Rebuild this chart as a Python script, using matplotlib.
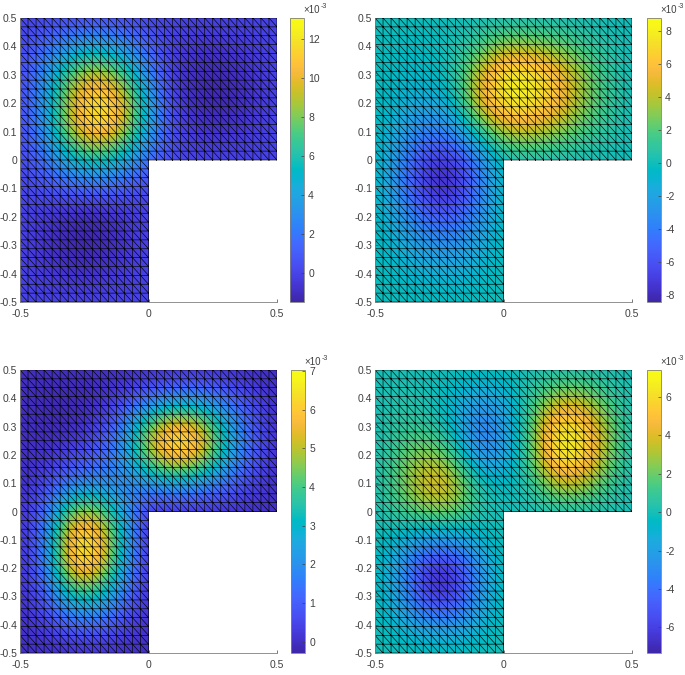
import numpy as np
import matplotlib
matplotlib.use('Agg')
import matplotlib.pyplot as plt
import matplotlib.tri as mtri
from matplotlib.colors import LinearSegmentedColormap
from matplotlib.patches import Polygon

plt.rcParams['font.family'] = ['Liberation Sans Narrow', 'Liberation Sans', 'DejaVu Sans']

# Node values (x 1e-3), rows y = 0.5 .. -0.5, columns x = -0.5 .. 0.5
modo1 = [
    [0, 0, 0, 0, 0, 0, 0, 0, 0, 0, 0],
    [0, 1.5, 3.2, 4.2, 3, 1, -0.3, -0.7, -0.6, -0.3, 0],
    [0, 3, 8, 10, 7.5, 2.5, -0.6, -1.2, -1.3, -0.7, 0],
    [0, 3.6, 10, 13, 10.8, 4.2, -0.4, -1.2, -1.45, -0.7, 0],
    [0, 3.2, 9.5, 12, 9.8, 3.8, 0, -0.7, -0.8, -0.4, 0],
    [0, 1.8, 5, 6.3, 4.5, 1.5, 0, 0, 0, 0, 0],
    [0, 0.4, 1, 1.2, 0.8, 0, 0, 0, 0, 0, 0],
    [0, -0.5, -1.1, -1.3, -0.7, 0, 0, 0, 0, 0, 0],
    [0, -0.8, -1.45, -1.45, -0.8, 0, 0, 0, 0, 0, 0],
    [0, -0.5, -0.8, -0.8, -0.4, 0, 0, 0, 0, 0, 0],
    [0, 0, 0, 0, 0, 0, 0, 0, 0, 0, 0],
]
modo2 = [
    [0, 0, 0, 0, 0, 0, 0, 0, 0, 0, 0],
    [0, -0.3, -0.3, 0, 1.3, 3.2, 3.2, 2.5, 1.5, 0.5, 0],
    [0, -0.5, -0.5, 0.2, 4.3, 8.3, 8.3, 6.5, 3.5, 1.2, 0],
    [0, -1, -1.6, -1, 5, 8.2, 8.2, 6.5, 3.5, 1.5, 0],
    [0, -1.8, -4, -3.3, 0.8, 4, 4.5, 3.4, 2, 0.8, 0],
    [0, -3.5, -6.8, -7.5, -4, 0, 0, 0, 0, 0, 0],
    [0, -3.8, -7.5, -8.2, -4.5, 0, 0, 0, 0, 0, 0],
    [0, -2.5, -5.2, -5.5, -3.5, 0, 0, 0, 0, 0, 0],
    [0, -1.2, -2.5, -3, -1.7, 0, 0, 0, 0, 0, 0],
    [0, -0.6, -1.1, -1.3, -0.8, 0, 0, 0, 0, 0, 0],
    [0, 0, 0, 0, 0, 0, 0, 0, 0, 0, 0],
]
modo3 = [
    [0, 0, 0, 0, 0, 0, 0, 0, 0, 0, 0],
    [0, -0.2, -0.25, -0.1, 0.3, 1, 1.7, 1.8, 1.2, 0.5, 0],
    [0, -0.1, -0.1, 0.3, 1.5, 4.8, 6.6, 5.8, 3, 1, 0],
    [0, 0, 0.4, 0.9, 2, 5, 6.8, 6, 3, 1, 0],
    [0, 0.5, 1.5, 1.8, 1.7, 2, 2.5, 2, 1.3, 0.5, 0],
    [0, 1, 4.8, 5, 2.5, 0, 0, 0, 0, 0, 0],
    [0, 1.5, 6.8, 6.8, 3, 0, 0, 0, 0, 0, 0],
    [0, 1.3, 6.3, 6.2, 2.5, 0, 0, 0, 0, 0, 0],
    [0, 0.8, 3.4, 3.4, 1.5, 0, 0, 0, 0, 0, 0],
    [0, 0.3, 1, 1.1, 0.5, 0, 0, 0, 0, 0, 0],
    [0, 0, 0, 0, 0, 0, 0, 0, 0, 0, 0],
]
modo4 = [
    [0, 0, 0, 0, 0, 0, 0, 0, 0, 0, 0],
    [0, 0.3, 0, -0.7, -2, -1.5, 0.5, 3, 3.2, 1.2, 0],
    [0, 0.8, 0.8, -0.5, -4, -2.5, 1.2, 6.6, 6.8, 2.7, 0],
    [0, 1.5, 3, 1.5, -3, -2.3, 1.2, 7, 7, 2.7, 0],
    [0, 2, 4.5, 4.3, 0.3, -0.6, 0.3, 3.5, 3.6, 1.3, 0],
    [0, 1.2, 2.2, 2.5, 0.5, 0, 0, 0, 0, 0, 0],
    [0, -1, -2.3, -2.4, -1, 0, 0, 0, 0, 0, 0],
    [0, -2.5, -6.5, -7, -3, 0, 0, 0, 0, 0, 0],
    [0, -2.2, -6.3, -6.5, -2.7, 0, 0, 0, 0, 0, 0],
    [0, -1, -2.2, -2.5, -1.2, 0, 0, 0, 0, 0, 0],
    [0, 0, 0, 0, 0, 0, 0, 0, 0, 0, 0],
]

limites = [(-1.49, 13.08), (-8.4, 8.8), (-0.29, 7.03), (-7.33, 7.4)]
ticks_barra = [
    [0, 2, 4, 6, 8, 10, 12],
    [-8, -6, -4, -2, 0, 2, 4, 6, 8],
    [0, 1, 2, 3, 4, 5, 6, 7],
    [-6, -4, -2, 0, 2, 4, 6],
]
ticks_eixo = [-0.5, -0.4, -0.3, -0.2, -0.1, 0, 0.1, 0.2, 0.3, 0.4, 0.5]
rotulos_eixo = ['-0.5', '-0.4', '-0.3', '-0.2', '-0.1', '0', '0.1', '0.2', '0.3', '0.4', '0.5']

# parula
parula = LinearSegmentedColormap.from_list('parula', [
    [0.2422, 0.1504, 0.6603], [0.2578, 0.1818, 0.7511], [0.2706, 0.2147, 0.8364],
    [0.2783, 0.2559, 0.8991], [0.2813, 0.3006, 0.9414], [0.2795, 0.3447, 0.9717],
    [0.2699, 0.3892, 0.9906], [0.2440, 0.4358, 0.9988], [0.1963, 0.4847, 0.9892],
    [0.1786, 0.5289, 0.9682], [0.1687, 0.5703, 0.9359], [0.1460, 0.6091, 0.9079],
    [0.1248, 0.6459, 0.8883], [0.0952, 0.6798, 0.8598], [0.0297, 0.7082, 0.8163],
    [0.0067, 0.7312, 0.7660], [0.0964, 0.7500, 0.7120], [0.1717, 0.7670, 0.6554],
    [0.2161, 0.7843, 0.5923], [0.2906, 0.7973, 0.5188], [0.3909, 0.8029, 0.4354],
    [0.5044, 0.7993, 0.3480], [0.6174, 0.7876, 0.2612], [0.7242, 0.7698, 0.1910],
    [0.8203, 0.7498, 0.1535], [0.9035, 0.7330, 0.1774], [0.9728, 0.7298, 0.2394],
    [0.9970, 0.7659, 0.2199], [0.9892, 0.8137, 0.1885], [0.9676, 0.8639, 0.1643],
    [0.9597, 0.9135, 0.1423], [0.9691, 0.9606, 0.1064], [0.9769, 0.9839, 0.0805],
], N=256)

# Malha triangular em L
n = 32
xs = np.linspace(-0.5, 0.5, n + 1)
X, Y = np.meshgrid(xs, xs)
triangulos = []
for j in range(n):
    for i in range(n):
        if i >= n // 2 and j < n // 2:
            continue
        a = j * (n + 1) + i
        b = a + 1
        c = a + n + 1
        d = c + 1
        triangulos.append([a, b, c])
        triangulos.append([b, d, c])
malha = mtri.Triangulation(X.ravel(), Y.ravel(), triangulos)

L = [(-0.5, -0.5), (0, -0.5), (0, 0), (0.5, 0), (0.5, 0.5), (-0.5, 0.5)]
W, H = 685.0, 675.0
posicoes = [(20, 18, 302), (375, 18, 302), (20, 370, 653), (375, 370, 653)]
pos_barra = [290, 647, 291, 647]

fig = plt.figure(figsize=(6.85, 6.75), dpi=100)
cinza = '#404040'
for k, modo in enumerate([modo1, modo2, modo3, modo4]):
    x0, ytop, ybot = posicoes[k]
    ax = fig.add_axes([x0 / W, 1 - ybot / H, 257 / W, (ybot - ytop) / H])
    im = ax.imshow(modo, extent=(-0.55, 0.55, -0.55, 0.55), origin='upper', cmap=parula,
                   vmin=limites[k][0], vmax=limites[k][1], interpolation='bicubic', aspect='auto')
    im.set_clip_path(Polygon(L, transform=ax.transData))
    ax.triplot(malha, color='k', linewidth=0.45)
    ax.set_xlim(-0.5, 0.5)
    ax.set_ylim(-0.5, 0.5)
    ax.set_xticks([-0.5, 0, 0.5])
    ax.set_xticklabels(['-0.5', '0', '0.5'])
    ax.set_yticks(ticks_eixo)
    ax.set_yticklabels(rotulos_eixo)
    ax.tick_params(direction='in', length=2.5, width=0.5, labelsize=7.5, colors=cinza)
    ax.tick_params(axis='x', pad=5)
    ax.tick_params(axis='y', pad=2)
    ax.spines['top'].set_visible(False)
    ax.spines['right'].set_visible(False)
    for lado in ['left', 'bottom']:
        ax.spines[lado].set_linewidth(0.6)
        ax.spines[lado].set_color('#808080')

    cax = fig.add_axes([pos_barra[k] / W, 1 - ybot / H, 14 / W, (ybot - ytop) / H])
    cb = fig.colorbar(im, cax=cax)
    cb.set_ticks(ticks_barra[k])
    cb.set_ticklabels([str(t) for t in ticks_barra[k]])
    cax.tick_params(direction='in', length=2, width=0.5, labelsize=7.5, colors=cinza, pad=3)
    cb.outline.set_linewidth(0.6)
    cb.outline.set_edgecolor('#808080')
    xt = pos_barra[k] + 13
    fig.text(xt / W, 1 - (ytop - 8) / H, '×10', fontsize=7, color=cinza, ha='left', va='center')
    fig.text((xt + 18) / W, 1 - (ytop - 12) / H, '-3', fontsize=5, color=cinza, ha='left', va='center')

fig.savefig('out.png', dpi=100)
